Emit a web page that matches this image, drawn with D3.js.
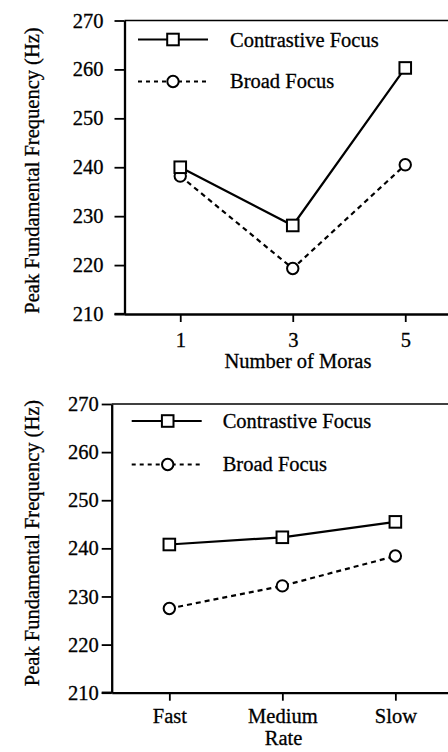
<!DOCTYPE html>
<html>
<head>
<meta charset="utf-8">
<script src="https://cdn.jsdelivr.net/npm/d3@7"></script>
<style>
  html, body { margin: 0; padding: 0; background: #fff; }
  svg { display: block; }
  svg text { font-family: "Liberation Serif", "Times New Roman", Times, "DejaVu Serif", serif !important; fill: #000; stroke: #000; stroke-width: 0.3px; }
</style>
</head>
<body>
<svg id="chart" width="448" height="752"></svg>
<script>
// ---- data ----
const moraCategories = [1, 3, 5];
const moraContrastive = [240.0, 228.1, 260.3];
const moraBroad = [238.2, 219.3, 240.5];

const rateCategories = ["Fast", "Medium", "Slow"];
const rateContrastive = [240.8, 242.3, 245.5];
const rateBroad = [227.5, 232.2, 238.4];

const yTickValues = [210, 220, 230, 240, 250, 260, 270];
const seriesNames = ["Contrastive Focus", "Broad Focus"];
const yTitle = "Peak Fundamental Frequency (Hz)";
const xTitleTop = "Number of Moras";
const xTitleBottom = "Rate";

// ---- drawing ----
const svg = d3.select("#chart");
const FS = 20.5;

function panel(cfg) {
  const g = svg.append("g");
  const y = d3.scaleLinear().domain([210, 270]).range([cfg.yBottom, cfg.yTop]);
  const x = cfg.x;

  // y axis
  const ya = g.append("g").attr("transform", `translate(${cfg.axisX},0)`)
    .call(d3.axisLeft(y).tickValues(yTickValues).tickSizeInner(10).tickSizeOuter(0)
      .tickPadding(cfg.yPad).tickFormat(d3.format("d")));
  ya.select(".domain").attr("stroke", "#000").attr("stroke-width", 2.3);
  ya.selectAll(".tick line").attr("stroke", "#000").attr("stroke-width", 1.8);
  ya.selectAll(".tick text").attr("font-size", FS).attr("fill", "#000");

  // x axis
  const xAxis = d3.axisBottom(x).tickValues(cfg.cats).tickSizeInner(8).tickSizeOuter(0).tickPadding(cfg.xPad);
  if (cfg.xFormat) xAxis.tickFormat(cfg.xFormat);
  const xa = g.append("g").attr("transform", `translate(0,${cfg.yBottom})`).call(xAxis);
  xa.select(".domain").attr("stroke", "#000").attr("stroke-width", 2.3);
  xa.selectAll(".tick line").attr("stroke", "#000").attr("stroke-width", 1.8);
  xa.selectAll(".tick text").attr("font-size", FS).attr("fill", "#000");

  // extend bottom axis line left to tick end
  g.append("line").attr("x1", cfg.axisX - 10).attr("x2", cfg.axisX)
    .attr("y1", cfg.yBottom).attr("y2", cfg.yBottom).attr("stroke", "#000").attr("stroke-width", 2.3);

  // top border
  g.append("line").attr("x1", cfg.axisX).attr("x2", 448)
    .attr("y1", y(270)).attr("y2", y(270)).attr("stroke", "#000").attr("stroke-width", 1.7);

  // axis titles
  g.append("text").attr("transform", `translate(${cfg.yTitleX},${cfg.yTitleY}) rotate(-90)`)
    .attr("text-anchor", "middle").attr("font-size", FS).text(yTitle);
  g.append("text").attr("x", cfg.xTitleX).attr("y", cfg.xTitleY)
    .attr("text-anchor", "middle").attr("font-size", FS).text(cfg.xTitle);

  const line = d3.line().x(d => x(d[0])).y(d => y(d[1]));
  const cData = cfg.cats.map((c, i) => [c, cfg.contrastive[i]]);
  const bData = cfg.cats.map((c, i) => [c, cfg.broad[i]]);

  g.append("path").datum(bData).attr("d", line).attr("fill", "none")
    .attr("stroke", "#000").attr("stroke-width", 2.2).attr("stroke-dasharray", "5,4");
  g.append("path").datum(cData).attr("d", line).attr("fill", "none")
    .attr("stroke", "#000").attr("stroke-width", 2.2);

  g.selectAll(".circ").data(bData).enter().append("circle")
    .attr("cx", d => x(d[0])).attr("cy", d => y(d[1])).attr("r", 5.7)
    .attr("fill", "#fff").attr("stroke", "#000").attr("stroke-width", 2);
  g.selectAll(".sq").data(cData).enter().append("rect")
    .attr("x", d => x(d[0]) - 5.8).attr("y", d => y(d[1]) - 5.8)
    .attr("width", 11.6).attr("height", 11.6)
    .attr("fill", "#fff").attr("stroke", "#000").attr("stroke-width", 2);

  // legend
  const L = cfg.legend;
  g.append("line").attr("x1", L.x0).attr("x2", L.x1).attr("y1", L.y0).attr("y2", L.y0)
    .attr("stroke", "#000").attr("stroke-width", 2.2);
  g.append("rect").attr("x", L.mx - 5.8).attr("y", L.y0 - 5.8).attr("width", 11.6).attr("height", 11.6)
    .attr("fill", "#fff").attr("stroke", "#000").attr("stroke-width", 2);
  g.append("text").attr("x", L.tx).attr("y", L.y0 + 7).attr("font-size", FS).text(seriesNames[0]);

  g.append("line").attr("x1", L.x0).attr("x2", L.x1).attr("y1", L.y1).attr("y2", L.y1)
    .attr("stroke", "#000").attr("stroke-width", 2.2).attr("stroke-dasharray", "4,4");
  g.append("circle").attr("cx", L.mx).attr("cy", L.y1).attr("r", 5.7)
    .attr("fill", "#fff").attr("stroke", "#000").attr("stroke-width", 2);
  g.append("text").attr("x", L.tx).attr("y", L.y1 + 6.5).attr("font-size", FS).text(seriesNames[1]);
}

// top panel: number of moras
panel({
  x: d3.scaleLinear().domain([0, 6]).range([124, 461.5]),
  xFormat: d3.format("d"),
  cats: moraCategories,
  contrastive: moraContrastive,
  broad: moraBroad,
  yTop: 20.5, yBottom: 314, axisX: 124.5, yPad: 11, xPad: 10,
  yTitleX: 39, yTitleY: 170.5,
  xTitle: xTitleTop, xTitleX: 298, xTitleY: 368,
  legend: { x0: 138, x1: 208, mx: 173, y0: 39.5, y1: 81.5, tx: 230 }
});

// bottom panel: rate
panel({
  x: d3.scalePoint().domain(rateCategories).range([111.7, 453]).padding(0.51),
  cats: rateCategories,
  contrastive: rateContrastive,
  broad: rateBroad,
  yTop: 404, yBottom: 692.7, axisX: 111.7, yPad: 3, xPad: 8,
  yTitleX: 39, yTitleY: 543,
  xTitle: xTitleBottom, xTitleX: 283.5, xTitleY: 745,
  legend: { x0: 131.7, x1: 201.7, mx: 167.7, y0: 421, y1: 464.5, tx: 222.7 }
});
</script>
</body>
</html>
